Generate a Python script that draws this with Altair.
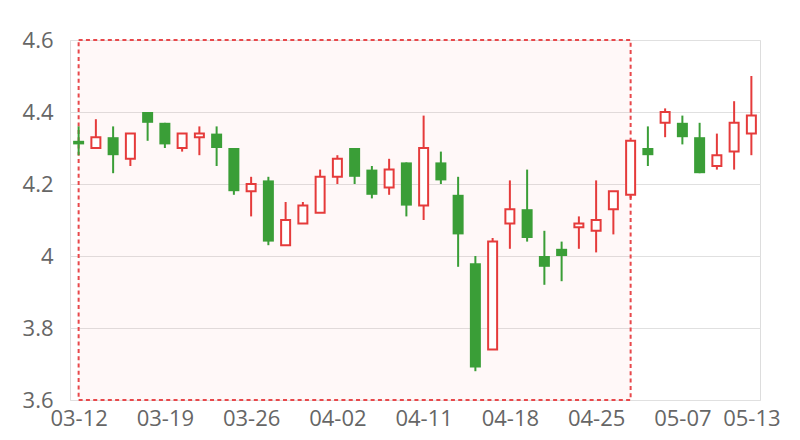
import altair as alt
import pandas as pd

dates = ["03-12", "03-13", "03-14", "03-15", "03-18", "03-19", "03-20", "03-21", "03-22", "03-25",
         "03-26", "03-27", "03-28", "03-29", "04-01", "04-02", "04-03", "04-04", "04-09", "04-10",
         "04-11", "04-12", "04-15", "04-16", "04-17", "04-18", "04-19", "04-22", "04-23", "04-24",
         "04-25", "04-26", "04-29", "04-30", "05-06", "05-07", "05-08", "05-09", "05-10", "05-13"]
open_ = [4.32, 4.30, 4.33, 4.27, 4.40, 4.37, 4.30, 4.33, 4.34, 4.30,
         4.18, 4.21, 4.03, 4.09, 4.12, 4.22, 4.30, 4.24, 4.19, 4.26,
         4.14, 4.26, 4.17, 3.98, 3.74, 4.09, 4.13, 4.00, 4.02, 4.08,
         4.07, 4.13, 4.17, 4.30, 4.37, 4.37, 4.33, 4.25, 4.29, 4.34]
close = [4.31, 4.33, 4.28, 4.34, 4.37, 4.31, 4.34, 4.34, 4.30, 4.18,
         4.20, 4.04, 4.10, 4.14, 4.22, 4.27, 4.22, 4.17, 4.24, 4.14,
         4.30, 4.21, 4.06, 3.69, 4.04, 4.13, 4.05, 3.97, 4.00, 4.09,
         4.10, 4.18, 4.32, 4.28, 4.40, 4.33, 4.23, 4.28, 4.37, 4.39]
low = [4.28, 4.30, 4.23, 4.25, 4.32, 4.30, 4.29, 4.28, 4.25, 4.17,
       4.11, 4.03, 4.03, 4.09, 4.12, 4.20, 4.20, 4.16, 4.17, 4.11,
       4.10, 4.20, 3.97, 3.68, 3.74, 4.02, 4.04, 3.92, 3.93, 4.02,
       4.01, 4.06, 4.16, 4.25, 4.33, 4.31, 4.23, 4.24, 4.24, 4.28]
high = [4.36, 4.38, 4.36, 4.34, 4.40, 4.37, 4.34, 4.36, 4.36, 4.30,
        4.22, 4.22, 4.15, 4.15, 4.24, 4.28, 4.30, 4.25, 4.27, 4.26,
        4.39, 4.29, 4.22, 4.00, 4.05, 4.21, 4.24, 4.07, 4.04, 4.11,
        4.21, 4.18, 4.32, 4.36, 4.41, 4.39, 4.37, 4.34, 4.43, 4.50]
tick_dates = ["03-12", "03-19", "03-26", "04-02", "04-11", "04-18", "04-25", "05-07", "05-13"]
y_ticks = [3.6, 3.8, 4.0, 4.2, 4.4, 4.6]
area_start, area_end = "03-12", "04-29"

RED = "#e53b3b"
GREEN = "#3a9e37"
FONT = "Open Sans"
FS = 22

df = pd.DataFrame({"date": dates, "open": open_, "close": close, "low": low, "high": high})
df["i"] = range(len(dates))
df["up"] = df["close"] >= df["open"]

area_df = pd.DataFrame({"s": [dates.index(area_start)], "e": [dates.index(area_end)],
                        "top": [max(y_ticks)], "bottom": [min(y_ticks)]})

label_expr = "[" + ",".join("'%s'" % d for d in dates) + "][datum.value]"
y_label_expr = "datum.value == 4 ? '4' : format(datum.value, '.1f')"

xscale = alt.Scale(domain=[-0.5, len(dates) - 0.5], nice=False, zero=False, padding=0)
xaxis = alt.Axis(values=[dates.index(d) for d in tick_dates], labelExpr=label_expr, title=None,
                 ticks=False, grid=False, domain=False, labelFontSize=FS, labelColor="#666",
                 labelPadding=8, labelFont=FONT)
yscale = alt.Scale(domain=[min(y_ticks), max(y_ticks)], nice=False, zero=False, padding=0)
yaxis = alt.Axis(values=y_ticks, labelExpr=y_label_expr, title=None, ticks=False, domain=False,
                 gridColor="#e0e0e0", labelFontSize=FS, labelColor="#666", labelPadding=17,
                 labelFont=FONT)

base = alt.Chart(df)

area = alt.Chart(area_df).mark_rect(fill="#ff3030", fillOpacity=0.035, stroke="#e8484b",
                                    strokeWidth=2, strokeDash=[4, 3.3]).encode(
    x=alt.X("s:Q", scale=xscale, axis=xaxis),
    x2="e:Q",
    y=alt.Y("top:Q", scale=yscale, axis=yaxis),
    y2="bottom:Q",
)

wicks = base.mark_rule(strokeWidth=2).encode(
    x=alt.X("i:Q", scale=xscale, axis=xaxis),
    y=alt.Y("low:Q", scale=yscale, axis=yaxis),
    y2="high:Q",
    color=alt.Color("up:N", scale=alt.Scale(domain=[True, False], range=[RED, GREEN]), legend=None),
)

up_bodies = base.transform_filter("datum.up").mark_bar(size=9, fill="white", stroke=RED,
                                                        strokeWidth=2).encode(
    x=alt.X("i:Q", scale=xscale, axis=xaxis),
    y=alt.Y("open:Q", scale=yscale, axis=yaxis),
    y2="close:Q",
)

down_bodies = base.transform_filter("!datum.up").mark_bar(size=11, fill=GREEN).encode(
    x=alt.X("i:Q", scale=xscale, axis=xaxis),
    y=alt.Y("open:Q", scale=yscale, axis=yaxis),
    y2="close:Q",
)

chart = alt.layer(area, wicks, up_bodies, down_bodies).properties(
    width=690, height=360,
    autosize=alt.AutoSizeParams(type="none"),
    padding={"left": 62, "top": 32, "right": 30, "bottom": 32},
).configure_view(stroke="#cccccc").configure(background="white")

chart.save("out.html", embed_options={"renderer": "svg", "actions": False})
